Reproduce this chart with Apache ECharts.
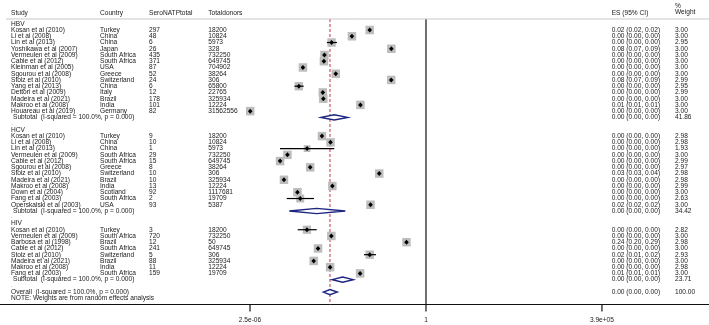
<!DOCTYPE html>
<html>
<head>
<meta charset="utf-8">
<script src="https://cdn.jsdelivr.net/npm/echarts@6/dist/echarts.min.js"></script>
<style>
html, body { margin: 0; padding: 0; background: #fff; }
#chart { width: 709px; height: 325px; }
</style>
</head>
<body>
<div id="chart"></div>
<script>
// ---- data ----
const hbvStudies = ['Kosan et al (2010)', 'Li et al (2008)', 'Lin et al (2013)', 'Yoshikawa et al (2007)', 'Vermeulen et al (2009)', 'Cable et al (2012)', 'Kleinman et al (2005)', 'Sgourou et al (2008)', 'Stolz et al (2010)', 'Yang et al (2013)', 'Dettori et al (2009)', 'Madeira et al (2021)', 'Makroo et al (2008)', 'Houareau et al (2019)'];
const hbvCountries = ['Turkey', 'China', 'China', 'Japan', 'South Africa', 'South Africa', 'USA', 'Greece', 'Switzerland', 'China', 'Italy', 'Brazil', 'India', 'Germany'];
const hbvSero = [297, 48, 6, 26, 435, 371, 87, 52, 24, 6, 12, 178, 101, 82];
const hbvTotal = [18200, 10824, 5973, 328, 732250, 649745, 704902, 38264, 306, 65800, 22765, 325934, 12224, 31562556];
const hbvEs = [0.0163, 0.00443, 0.00100, 0.0793, 0.000594, 0.000571, 0.000123, 0.00136, 0.0784, 0.0000912, 0.000527, 0.000546, 0.00826, 0.0000026];
const hbvLo = [0.0157, 0.00425, 0.00071, 0.0755, 0.000580, 0.000558, 0.000117, 0.00130, 0.0740, 0.000066, 0.000500, 0.000535, 0.00800, 0.0000025];
const hbvHi = [0.0169, 0.00462, 0.00148, 0.0832, 0.000608, 0.000584, 0.000129, 0.00142, 0.0830, 0.000130, 0.000555, 0.000557, 0.00852, 0.0000027];
const hbvEsText = ['0.02 (0.02, 0.02)', '0.00 (0.00, 0.00)', '0.00 (0.00, 0.00)', '0.08 (0.07, 0.09)', '0.00 (0.00, 0.00)', '0.00 (0.00, 0.00)', '0.00 (0.00, 0.00)', '0.00 (0.00, 0.00)', '0.08 (0.07, 0.09)', '0.00 (0.00, 0.00)', '0.00 (0.00, 0.00)', '0.00 (0.00, 0.00)', '0.01 (0.01, 0.01)', '0.00 (0.00, 0.00)'];
const hbvWeight = [3.00, 3.00, 2.95, 3.00, 3.00, 3.00, 3.00, 3.00, 2.99, 2.95, 2.99, 3.00, 3.00, 3.00];

const hcvStudies = ['Kosan et al (2010)', 'Li et al (2008)', 'Lin et al (2013)', 'Vermeulen et al (2009)', 'Cable et al (2012)', 'Sgourou et al (2008)', 'Stolz et al (2010)', 'Madeira et al (2021)', 'Makroo et al (2008)', 'Down et al (2004)', 'Fang et al (2003)', 'Operskalski et al (2003)'];
const hcvCountries = ['Turkey', 'China', 'China', 'South Africa', 'South Africa', 'Greece', 'Switzerland', 'Brazil', 'India', 'Scotland', 'South Africa', 'USA'];
const hcvSero = [9, 10, 1, 29, 15, 8, 10, 10, 13, 92, 2, 93];
const hcvTotal = [18200, 10824, 5973, 732250, 649745, 38264, 306, 325934, 12224, 1117681, 19709, 5387];
const hcvEs = [0.000495, 0.000924, 0.000167, 0.0000396, 0.0000231, 0.000209, 0.0327, 0.0000307, 0.00106, 0.0000823, 0.000101, 0.0173];
const hcvLo = [0.000470, 0.000880, 0.0000230, 0.0000378, 0.0000219, 0.000197, 0.0310, 0.0000292, 0.00101, 0.0000800, 0.0000375, 0.0166];
const hcvHi = [0.000520, 0.000970, 0.00122, 0.0000414, 0.0000243, 0.000221, 0.0344, 0.0000322, 0.00111, 0.0000846, 0.000276, 0.0180];
const hcvEsText = ['0.00 (0.00, 0.00)', '0.00 (0.00, 0.00)', '0.00 (0.00, 0.00)', '0.00 (0.00, 0.00)', '0.00 (0.00, 0.00)', '0.00 (0.00, 0.00)', '0.03 (0.03, 0.04)', '0.00 (0.00, 0.00)', '0.00 (0.00, 0.00)', '0.00 (0.00, 0.00)', '0.00 (0.00, 0.00)', '0.02 (0.02, 0.02)'];
const hcvWeight = [2.98, 2.98, 1.93, 3.00, 2.99, 2.97, 2.98, 2.98, 2.99, 3.00, 2.63, 3.00];

const hivStudies = ['Kosan et al (2010)', 'Vermeulen et al (2009)', 'Barbosa et al (1998)', 'Cable et al (2012)', 'Stolz et al (2010)', 'Madeira et al (2021)', 'Makroo et al (2008)', 'Fang et al (2003)'];
const hivCountries = ['Turkey', 'South Africa', 'Brazil', 'South Africa', 'Switzerland', 'Brazil', 'India', 'South Africa'];
const hivSero = [3, 720, 12, 241, 5, 88, 11, 159];
const hivTotal = [18200, 732250, 50, 649745, 306, 325934, 12224, 19709];
const hivEs = [0.000165, 0.000983, 0.240, 0.000371, 0.0163, 0.000270, 0.000900, 0.00807];
const hivLo = [0.0000840, 0.000950, 0.228, 0.000358, 0.0107, 0.000258, 0.000855, 0.00775];
const hivHi = [0.000337, 0.00102, 0.252, 0.000384, 0.0258, 0.000282, 0.000945, 0.00840];
const hivEsText = ['0.00 (0.00, 0.00)', '0.00 (0.00, 0.00)', '0.24 (0.20, 0.29)', '0.00 (0.00, 0.00)', '0.02 (0.01, 0.02)', '0.00 (0.00, 0.00)', '0.00 (0.00, 0.00)', '0.01 (0.01, 0.01)'];
const hivWeight = [2.82, 3.00, 2.98, 3.00, 2.93, 3.00, 2.98, 3.00];

// pooled estimates: [lower, estimate, upper]
const hbvPooled = [0.00046, 0.00122, 0.00325];
const hcvPooled = [0.0000453, 0.000337, 0.00273];
const hivPooled = [0.00105, 0.00225, 0.0049];
const overallPooled = [0.000545, 0.00089, 0.00152];
const pooledWeight = ['41.86', '34.42', '23.71'];
const pooledEsText = '0.00 (0.00, 0.00)';
const hetText = '(I-squared = 100.0%, p = 0.000)';

const xTickValues = [2.56e-6, 1, 3.9e5];
const xTickLabels = ['2.5e-06', '1', '3.9e+05'];

// ---- layout ----
const FONT = '"Liberation Sans", Arial, Helvetica, sans-serif';
const FS = 6.6;
const colX = { study: 11, sub: 13, country: 100, sero: 149, total: 208.3, es: 611.7, weight: 675 };

const groups = [
    { name: 'HBV', study: hbvStudies, country: hbvCountries, sero: hbvSero, total: hbvTotal, es: hbvEs, lo: hbvLo, hi: hbvHi, esText: hbvEsText, weight: hbvWeight, pooled: hbvPooled, pw: pooledWeight[0] },
    { name: 'HCV', study: hcvStudies, country: hcvCountries, sero: hcvSero, total: hcvTotal, es: hcvEs, lo: hcvLo, hi: hcvHi, esText: hcvEsText, weight: hcvWeight, pooled: hcvPooled, pw: pooledWeight[1] },
    { name: 'HIV', study: hivStudies, country: hivCountries, sero: hivSero, total: hivTotal, es: hivEs, lo: hivLo, hi: hivHi, esText: hivEsText, weight: hivWeight, pooled: hivPooled, pw: pooledWeight[2] }
];

let cells = [];
let boxes = [];
let cis = [];
let diamonds = [];

cells.push([colX.study, -1.78, 'Study', 'h']);
cells.push([colX.country, -1.78, 'Country', 'h']);
cells.push([colX.sero, -1.78, 'SeroNATPtotal', 'h']);
cells.push([colX.total, -1.78, 'Totaldonors', 'h']);
cells.push([colX.es, -1.78, 'ES (95% CI)', 'h']);
cells.push([colX.weight, -2.85, '%', 'h']);
cells.push([colX.weight, -1.9, 'Weight', 'h']);

let row = 0;
groups.forEach(function (g) {
    cells.push([colX.study, row, g.name]);
    row++;
    g.study.forEach(function (s, i) {
        cells.push([colX.study, row, s]);
        cells.push([colX.country, row, g.country[i]]);
        cells.push([colX.sero, row, String(g.sero[i])]);
        cells.push([colX.total, row, String(g.total[i])]);
        cells.push([colX.es, row, g.esText[i]]);
        cells.push([colX.weight, row, g.weight[i].toFixed(2)]);
        boxes.push([g.es[i], row, g.weight[i]]);
        cis.push([g.lo[i], row, g.hi[i]]);
        row++;
    });
    cells.push([colX.sub, row, 'Subtotal  ' + hetText]);
    cells.push([colX.es, row, pooledEsText]);
    cells.push([colX.weight, row, g.pw]);
    diamonds.push([g.pooled[1], row, g.pooled[0], g.pooled[2]]);
    row++;
    cells.push([colX.study, row - 0.15, '.', 'dot']);
    row++;
});
cells.push([colX.study, row, 'Overall  ' + hetText]);
cells.push([colX.es, row, pooledEsText]);
cells.push([colX.weight, row, '100.00']);
diamonds.push([overallPooled[1], row, overallPooled[0], overallPooled[2]]);
cells.push([colX.study, row + 1, 'NOTE: Weights are from random effects analysis']);

const TOP_ROW = -0.77;
const AXIS_ROW = 45;

const chart = echarts.init(document.getElementById('chart'));

// every segment item is [x, y, x2, y2] in data units
function segments(gi, items, color, dash, width) {
    return {
        type: 'custom',
        xAxisIndex: gi,
        yAxisIndex: gi,
        silent: true,
        z: 1,
        encode: { x: [0, 2], y: [1, 3] },
        data: items,
        renderItem: function (params, api) {
            const a = api.coord([api.value(0), api.value(1)]);
            const b = api.coord([api.value(2), api.value(3)]);
            return {
                type: 'line',
                shape: { x1: a[0], y1: a[1], x2: b[0], y2: b[1] },
                style: { stroke: color, lineWidth: width, lineDash: dash }
            };
        }
    };
}

chart.setOption({
    animation: false,
    backgroundColor: '#fff',
    grid: [
        { left: 2, right: 0, top: 1.96, bottom: 20.4 },
        { left: 0, right: 0, top: 1.96, bottom: 20.4 }
    ],
    xAxis: [{
        type: 'log',
        gridIndex: 0,
        position: 'bottom',
        min: 3.37e-14,
        max: 9.84e8,
        axisLine: { show: false, onZero: false },
        axisTick: { show: false },
        axisLabel: {
            show: true,
            customValues: xTickValues,
            margin: 12.5,
            fontSize: FS,
            fontFamily: FONT,
            color: '#222',
            formatter: function (v) {
                for (let i = 0; i < xTickValues.length; i++) {
                    if (Math.abs(Math.log10(v) - Math.log10(xTickValues[i])) < 0.02) {
                        return xTickLabels[i];
                    }
                }
                return '';
            }
        },
        splitLine: { show: false }
    }, {
        // full-width helper axis that carries the horizontal axis line
        type: 'value',
        gridIndex: 1,
        position: 'bottom',
        min: 0,
        max: 709,
        axisLine: { show: true, onZero: false, lineStyle: { color: '#111', width: 1.2 } },
        axisTick: { show: false },
        axisLabel: { show: false },
        splitLine: { show: false }
    }],
    yAxis: [{
        type: 'value', gridIndex: 0, min: -3.5, max: AXIS_ROW, inverse: true, show: false
    }, {
        type: 'value', gridIndex: 1, min: -3.5, max: AXIS_ROW, inverse: true, show: false
    }],
    series: [
        // reference line at the overall estimate, and the null line
        segments(0, [[overallPooled[1], TOP_ROW, overallPooled[1], AXIS_ROW]], '#c8323c', [3, 2], 1),
        segments(0, [[1, TOP_ROW, 1, AXIS_ROW]], '#111', null, 1.2),
        // header rule
        segments(1, [[6, TOP_ROW, 709, TOP_ROW]], '#c8c8c8', null, 1),
        {
            type: 'scatter',
            xAxisIndex: 0,
            yAxisIndex: 0,
            silent: true,
            z: 2,
            symbol: 'rect',
            symbolSize: function (val) {
                return 8.5 * Math.sqrt(val[2] / 3);
            },
            itemStyle: { color: '#bdbdbd', opacity: 1 },
            data: boxes
        },
        {
            type: 'custom',
            xAxisIndex: 0,
            yAxisIndex: 0,
            silent: true,
            z: 3,
            encode: { x: [0, 2], y: 1 },
            data: cis,
            renderItem: function (params, api) {
                const a = api.coord([api.value(0), api.value(1)]);
                const b = api.coord([api.value(2), api.value(1)]);
                return {
                    type: 'line',
                    shape: { x1: a[0], y1: a[1], x2: b[0], y2: b[1] },
                    style: { stroke: '#000', lineWidth: 1.2 }
                };
            }
        },
        {
            type: 'scatter',
            xAxisIndex: 0,
            yAxisIndex: 0,
            silent: true,
            z: 4,
            symbol: 'diamond',
            symbolSize: [4.6, 5],
            itemStyle: { color: '#000', opacity: 1 },
            data: boxes
        },
        {
            type: 'custom',
            xAxisIndex: 0,
            yAxisIndex: 0,
            silent: true,
            z: 5,
            encode: { x: [0, 2, 3], y: 1 },
            data: diamonds,
            renderItem: function (params, api) {
                const r = api.value(1);
                const l = api.coord([api.value(2), r]);
                const t = api.coord([api.value(0), r - 0.42]);
                const rt = api.coord([api.value(3), r]);
                const b = api.coord([api.value(0), r + 0.42]);
                return {
                    type: 'polygon',
                    shape: { points: [l, t, rt, b] },
                    style: { fill: '#fff', stroke: '#1c2580', lineWidth: 1.4 }
                };
            }
        },
        {
            type: 'custom',
            xAxisIndex: 1,
            yAxisIndex: 1,
            silent: true,
            z: 6,
            data: cells,
            renderItem: function (params, api) {
                const c = cells[params.dataIndex];
                const p = api.coord([c[0], c[1]]);
                return {
                    type: 'text',
                    x: p[0],
                    y: p[1],
                    style: {
                        text: c[2],
                        fill: c[3] === 'dot' ? '#9a9a9a' : '#1a1a1a',
                        font: FS + 'px ' + FONT,
                        align: 'left',
                        verticalAlign: 'middle',
                        textAlign: 'left',
                        textVerticalAlign: 'middle'
                    }
                };
            }
        },
        {
            // x ticks hanging below the axis line
            type: 'scatter',
            xAxisIndex: 0,
            yAxisIndex: 0,
            silent: true,
            clip: false,
            z: 7,
            symbol: 'rect',
            symbolSize: [1.2, 7],
            symbolOffset: [0, 3.5],
            itemStyle: { color: '#111', opacity: 1 },
            data: xTickValues.map(function (v) { return [v, AXIS_ROW]; })
        }
    ]
});
</script>
</body>
</html>
